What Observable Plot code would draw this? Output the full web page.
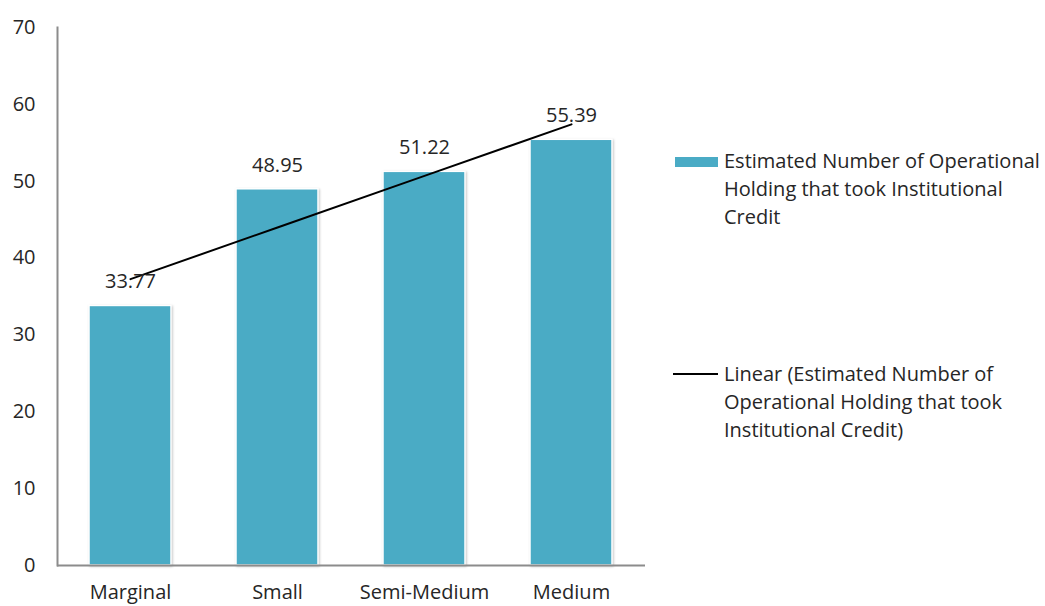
<!DOCTYPE html>
<html>
<head>
<meta charset="utf-8">
<script src="https://cdn.jsdelivr.net/npm/d3@7"></script>
<script src="https://cdn.jsdelivr.net/npm/@observablehq/plot@0.6"></script>
<style>
  html, body { margin: 0; padding: 0; background: #fff; }
  #wrap { position: relative; width: 1045px; height: 606px; overflow: hidden; font-family: "Open Sans", sans-serif; color: #262626; }
  .legend { position: absolute; font-size: 20px; line-height: 28px; color: #262626; }
  .legend .sw { position: absolute; }
  .legend .txt { position: absolute; left: 51px; top: 0; white-space: nowrap; }
  .bars rect { filter: drop-shadow(1px 1px 1px rgba(0,0,0,0.22)); }
</style>
</head>
<body>
<div id="wrap"></div>
<script>
const categories = ["Marginal", "Small", "Semi-Medium", "Medium"];
const values = [33.77, 48.95, 51.22, 55.39];
const yTicks = [0, 10, 20, 30, 40, 50, 60, 70];
const seriesName = "Estimated Number of Operational Holding that took Institutional Credit";
const trendName = "Linear (Estimated Number of Operational Holding that took Institutional Credit)";

const data = categories.map((c, i) => ({category: c, value: values[i], idx: i + 1}));

// Linear trendline (least squares) over category index, as in the spreadsheet chart
const mx = d3.mean(data, d => d.idx);
const my = d3.mean(values);
const slope = d3.sum(data, d => (d.idx - mx) * (d.value - my)) / d3.sum(data, d => (d.idx - mx) ** 2);
const intercept = my - slope * mx;
const trend = data.map(d => ({category: d.category, value: intercept + slope * d.idx}));

const barColor = "#4aabc5";
const textColor = "#262626";

const chart = Plot.plot({
  width: 1045,
  height: 606,
  marginTop: 27,
  marginLeft: 57,
  marginRight: 400,
  marginBottom: 41,
  style: {fontFamily: "'Open Sans', sans-serif", fontSize: "20px", color: textColor, background: "#fff", overflow: "visible"},
  x: {domain: categories, paddingInner: 0.44, paddingOuter: 0.22, label: null},
  y: {domain: [0, 70], label: null},
  marks: [
    Plot.barY(data, {x: "category", y: "value", fill: barColor, stroke: "#fff", strokeWidth: 1.5, className: "bars"}),
    Plot.ruleY([0], {stroke: "#8c8c8c", strokeWidth: 2}),
    Plot.frame({anchor: "left", stroke: "#8c8c8c", strokeWidth: 2}),
    Plot.line(trend, {x: "category", y: "value", stroke: "#000", strokeWidth: 2}),
    Plot.text(data, {x: "category", y: "value", text: d => d.value.toFixed(2), dy: -24, lineAnchor: "middle", fill: textColor, fontSize: 20}),
    Plot.axisY({ticks: yTicks, tickSize: 0, tickPadding: 22, fontSize: 20, fill: textColor}),
    Plot.axisX({tickSize: 0, tickPadding: 19, fontSize: 20, fill: textColor})
  ]
});

const wrap = document.getElementById("wrap");
wrap.appendChild(chart);

const legend1 = document.createElement("div");
legend1.className = "legend";
legend1.style.left = "673px";
legend1.style.top = "147px";
legend1.innerHTML = `<div class="sw" style="left:2px;top:10px;width:43px;height:10px;background:${barColor}"></div>
<div class="txt">Estimated Number of Operational<br>Holding that took Institutional<br>Credit</div>`;
wrap.appendChild(legend1);

const legend2 = document.createElement("div");
legend2.className = "legend";
legend2.style.left = "673px";
legend2.style.top = "360px";
legend2.innerHTML = `<div class="sw" style="left:0px;top:13px;width:45px;height:2px;background:#000"></div>
<div class="txt">Linear (Estimated Number of<br>Operational Holding that took<br>Institutional Credit)</div>`;
wrap.appendChild(legend2);
</script>
</body>
</html>
